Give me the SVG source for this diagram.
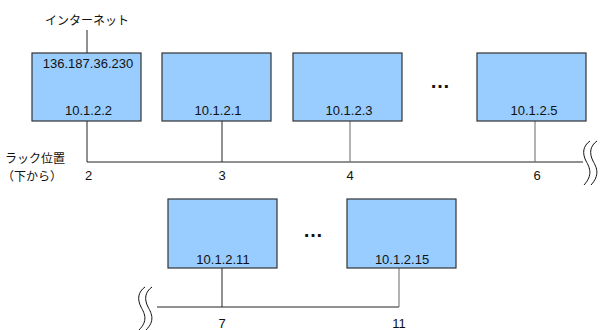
<svg xmlns="http://www.w3.org/2000/svg" width="602" height="330" viewBox="0 0 602 330">
  <style>
    .box { fill: #99ccff; stroke: #333333; stroke-width: 1.2; }
    .wire { fill: none; stroke: #222222; stroke-width: 1; }
    .gray { stroke: #666666; }
    .brk { fill: none; stroke: #111111; stroke-width: 1; }
    text { font-family: "Liberation Sans", Arial, "Noto Sans CJK JP", sans-serif; font-size: 13px; fill: #111111; }
    .jp { font-family: "Noto Sans CJK JP", "Liberation Sans", sans-serif; }
    .side { font-size: 12px; }
    .mid { text-anchor: middle; }
    .dots { font-size: 20px; font-weight: bold; }
  </style>

  <!-- connectors: uplink, rack buses and drops -->
  <g id="connectors">
    <line class="wire" x1="87" y1="30" x2="87" y2="53"/>
    <polyline class="wire" points="87,121 87,162 583,162"/>
    <line class="wire" x1="222" y1="121" x2="222" y2="162"/>
    <line class="wire gray" x1="350" y1="121" x2="350" y2="162"/>
    <line class="wire gray" x1="535" y1="121" x2="535" y2="162"/>
    <polyline class="wire" points="157,307 399,307"/>
    <line class="wire" x1="222" y1="268" x2="222" y2="307"/>
    <line class="wire gray" x1="399" y1="268" x2="399" y2="307"/>
    <!-- break marks on the bus -->
    <path class="brk" d="M590,141 C583,146 582,153 586,161 C590,168 593,175 584,185"/>
    <path class="brk" d="M597,141 C590,146 589,153 593,161 C597,168 600,175 591,185"/>
    <path class="brk" d="M145,287 C138,292 137,299 141,307 C145,314 148,321 139,330"/>
    <path class="brk" d="M152,287 C145,292 144,299 148,307 C152,314 155,321 146,330"/>
  </g>

  <text class="jp mid" x="87" y="25" style="font-size:12px">インターネット</text>

  <g id="node-gw">
    <rect class="box" x="32" y="53" width="109" height="68"/>
    <text class="mid" x="88" y="68">136.187.36.230</text>
    <text class="mid" x="88.5" y="115">10.1.2.2</text>
  </g>
  <g id="node-1">
    <rect class="box" x="162" y="53" width="109" height="68"/>
    <text class="mid" x="218" y="115">10.1.2.1</text>
  </g>
  <g id="node-3">
    <rect class="box" x="293" y="53" width="109" height="68"/>
    <text class="mid" x="349" y="115">10.1.2.3</text>
  </g>
  <text class="mid dots" x="440" y="88">…</text>
  <g id="node-5">
    <rect class="box" x="477" y="53" width="109" height="68"/>
    <text class="mid" x="534" y="115">10.1.2.5</text>
  </g>

  <g id="node-11">
    <rect class="box" x="168" y="199" width="109" height="69"/>
    <text class="mid" x="223" y="264">10.1.2.11</text>
  </g>
  <text class="mid dots" x="313" y="237">…</text>
  <g id="node-15">
    <rect class="box" x="347" y="199" width="109" height="69"/>
    <text class="mid" x="402" y="264">10.1.2.15</text>
  </g>

  <!-- rack position labels -->
  <text class="jp" x="5" y="163" style="font-size:12px">ラック位置</text>
  <text class="jp" x="2" y="180.8" style="font-size:12px">（下から）</text>
  <text class="mid" x="88.5" y="180">2</text>
  <text class="mid" x="222" y="180">3</text>
  <text class="mid" x="350" y="180">4</text>
  <text class="mid" x="537" y="180">6</text>
  <text class="mid" x="222" y="328">7</text>
  <text class="mid" x="399" y="328">11</text>
</svg>
